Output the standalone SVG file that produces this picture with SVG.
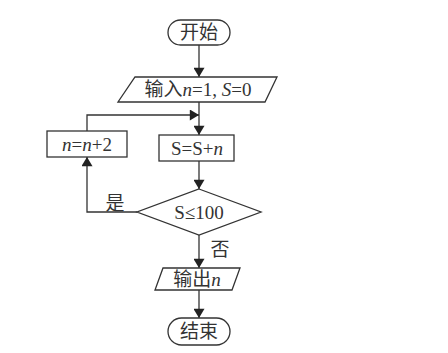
<svg xmlns="http://www.w3.org/2000/svg" width="448" height="353" viewBox="0 0 448 353">
<style>
.s{fill:#fff;stroke:#333;stroke-width:1.3}
.c{fill:none;stroke:#333;stroke-width:1.3}
.t{font-family:"Liberation Serif","Noto Sans CJK SC",serif;font-size:19px;fill:#333;text-anchor:middle}
.v{font-style:italic}
</style>
<defs>
<marker id="a" viewBox="0 0 10 12" refX="10" refY="6" markerWidth="12" markerHeight="11" markerUnits="userSpaceOnUse" orient="auto">
<path d="M0,0 L10,6 L0,12 z" fill="#222"/>
</marker>
</defs>
<rect width="448" height="353" fill="#fff"/>
<g id="connectors">
<line class="c" x1="199" y1="45" x2="199" y2="77" marker-end="url(#a)"/>
<line class="c" x1="199" y1="102" x2="199" y2="135" marker-end="url(#a)"/>
<polyline class="c" points="87,131 87,115 199,115" marker-end="url(#a)"/>
<line class="c" x1="199" y1="161" x2="199" y2="189" marker-end="url(#a)"/>
<polyline class="c" points="137,212 87,212 87,157" marker-end="url(#a)"/>
<line class="c" x1="199" y1="235" x2="199" y2="268" marker-end="url(#a)"/>
<line class="c" x1="199" y1="290" x2="199" y2="318" marker-end="url(#a)"/>
<text class="t" x="115" y="210">是</text>
<text class="t" x="220" y="256">否</text>
</g>
<g id="start">
<rect class="s" x="168" y="20" width="62" height="25" rx="12.5"/>
<text class="t" x="199" y="39">开始</text>
</g>
<g id="input">
<polygon class="s" points="135,77 277,77 265,102 118,102"/>
<text class="t" x="198" y="96">输入<tspan class="v">n</tspan>=1, <tspan class="v">S</tspan>=0</text>
</g>
<g id="sum">
<rect class="s" x="159" y="135" width="75" height="26"/>
<text class="t" x="197" y="155">S=S+<tspan class="v">n</tspan></text>
</g>
<g id="inc">
<rect class="s" x="47" y="131" width="80" height="26"/>
<text class="t" x="87" y="151"><tspan class="v">n</tspan>=<tspan class="v">n</tspan>+2</text>
</g>
<g id="cond">
<polygon class="s" points="199,189 261,212 199,235 137,212"/>
<text class="t" x="199" y="219">S≤100</text>
</g>
<g id="output">
<polygon class="s" points="163,268 240,268 232,290 155,290"/>
<text class="t" x="197" y="286">输出<tspan class="v">n</tspan></text>
</g>
<g id="end">
<rect class="s" x="168" y="318" width="62" height="27" rx="13.5"/>
<text class="t" x="199" y="338">结束</text>
</g>
</svg>
